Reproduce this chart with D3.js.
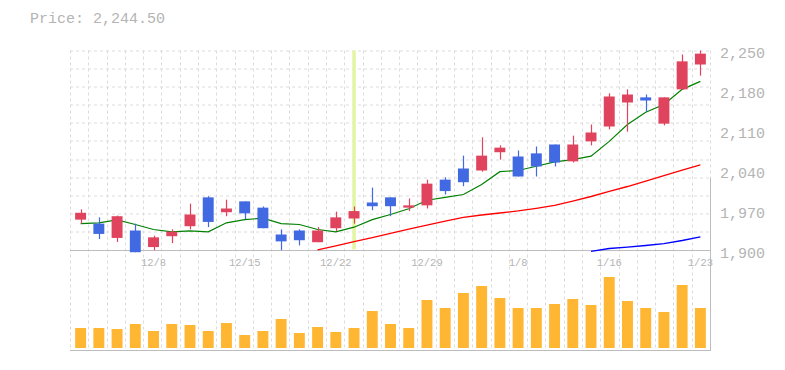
<!DOCTYPE html>
<html>
<head>
<meta charset="utf-8">
<script src="https://cdn.jsdelivr.net/npm/d3@7"></script>
<style>
  html, body { margin: 0; padding: 0; background: #fff; }
  svg { display: block; }
  text { font-family: "Liberation Mono", "Courier New", monospace; fill: #b4b4b4; }
</style>
</head>
<body>
<svg id="chart" width="785" height="370"></svg>
<script>
// ---- data ----
const dates = ["12/2","12/3","12/4","12/5","12/8","12/9","12/10","12/11","12/12",
  "12/15","12/16","12/17","12/18","12/19","12/22","12/23","12/24","12/25","12/26",
  "12/29","12/30","1/5","1/6","1/7","1/8","1/9","1/13","1/14","1/15","1/16",
  "1/19","1/20","1/21","1/22","1/23"];
const openP  = [1954,1947,1922,1935,1906,1925,1942.5,1993,1967,1986,1975,1928,1935,1914.5,1939,1956,1984,1993,1975,1979,2024,2043.5,2040,2072,2064.5,2070,2085.5,2056,2091,2117,2159,2168,2122,2182,2225.5];
const closeP = [1966,1929,1960,1897,1923,1933,1963,1950,1973.5,1965,1939,1916,1918,1935,1958,1969,1977.5,1977.5,1979,2017,2004,2019.5,2066,2080,2029.5,2047,2054,2085.5,2106.5,2169.5,2173,2162.5,2168,2231,2244.5];
const highP  = [1972,1958,1961,1947,1926,1937,1982,1995,1989,1986,1977,1937,1937,1941,1968,1977,2010,1993,1991,2024,2028,2066,2098,2084,2075,2082,2085.5,2101,2120.5,2175,2182,2173,2168,2243,2250];
const lowP   = [1947,1920,1915,1897,1900.5,1913,1937,1941,1960,1955,1939,1900.5,1909,1914.5,1934,1947,1970.5,1960,1969,1973.5,1998,2012.5,2038,2059,2029.5,2029.5,2047,2054,2084,2112,2108,2143,2119,2182,2206];
const volume = [200,200,190,240,170,240,230,170,250,130,170,290,150,210,160,200,370,240,200,480,400,550,620,500,400,400,440,490,430,710,470,400,360,630,400].map(v => v * 1000);
const ma5  = [1947,1948.5,1953.7,1945.5,1936.7,1932.7,1934.5,1932.7,1948.5,1954,1956.5,1947,1945.5,1936.7,1932.7,1940.8,1954,1963,1973,1988,1993,1998,2015.5,2038,2040,2047.5,2055,2059,2065,2091,2120.5,2142,2155.5,2182,2196];
const ma25 = [null,null,null,null,null,null,null,null,null,null,null,null,null,
  1900.9,1908.2,1915.4,1922.6,1930.1,1937.3,1944.5,1951.6,1958.1,1962.1,1965.6,1969.3,1973.9,1979.1,1986.6,1994.5,2003.3,2012,2021.5,2031.1,2040.6,2050];
const ma75 = [null,null,null,null,null,null,null,null,null,null,null,null,null,null,null,null,null,null,null,null,null,null,null,null,null,null,null,null,
  1898.6,1903.5,1905.8,1908.75,1912,1917.5,1924];
const priceTicks = [1900, 1970, 2040, 2110, 2180, 2250];
const xTickEvery = 5, xTickOffset = 4;
const highlightIndex = 15;
const titleText = "Price: 2,244.50";

// ---- layout ----
const svg = d3.select("#chart");
const L = 70, R = 710, T = 50.5, PB = 250.5, VB = 348, AX2 = 350.5;
const idx = d3.range(dates.length);
const x = d3.scaleBand().domain(idx).range([71.5, 709.5]).paddingInner(0.4).paddingOuter(0.2);
const cx = i => x(i) + x.bandwidth() / 2;
const y = d3.scaleLinear().domain([1900, 2250]).range([PB, T]);
const yv = d3.scaleLinear().domain([0, 1000000]).range([VB, VB - 100]);

// title
svg.append("text").attr("x", 30).attr("y", 23).style("font-size", "15px").text(titleText);

// grid
const grid = svg.append("g").attr("stroke", "#dcdcdc").attr("stroke-dasharray", "3,3").attr("stroke-width", 1);
const nV = 35, nH = 11;
d3.range(nV).forEach(k => {
  const gx = Math.round(L + k * (R - L) / nV) + 0.5;
  grid.append("line").attr("x1", gx).attr("x2", gx).attr("y1", T).attr("y2", AX2);
});
grid.append("line").attr("x1", R + 0.5).attr("x2", R + 0.5).attr("y1", T).attr("y2", 178);
d3.range(nH).forEach(k => {
  const gy = Math.round(T + k * (PB - T) / nH) + 0.5;
  grid.append("line").attr("x1", L).attr("x2", R).attr("y1", gy - 0.5).attr("y2", gy - 0.5);
});

// axes lines
svg.append("line").attr("x1", L).attr("x2", R + 1).attr("y1", PB).attr("y2", PB).attr("stroke", "#bdbdbd");
svg.append("line").attr("x1", L).attr("x2", R + 1).attr("y1", AX2).attr("y2", AX2).attr("stroke", "#bdbdbd");
svg.append("line").attr("x1", R + 0.5).attr("x2", R + 0.5).attr("y1", 178).attr("y2", AX2).attr("stroke", "#bdbdbd");

// highlight
svg.append("line").attr("x1", cx(highlightIndex)).attr("x2", cx(highlightIndex))
  .attr("y1", T).attr("y2", PB - 1).attr("stroke", "#e3f5a2").attr("stroke-width", 3.5);

// price axis labels (right)
const yAxis = d3.axisRight(y).tickValues(priceTicks).tickSize(0).tickPadding(10).tickFormat(d3.format(","));
const ya = svg.append("g").attr("transform", `translate(${R},0)`).call(yAxis);
ya.select(".domain").remove();
ya.selectAll("text").style("font-size", "15px").attr("fill", "#b4b4b4").attr("dy", "6.5").style("font-family", "'Liberation Mono', monospace");

// x labels
const xAxis = d3.axisBottom(x).tickValues(idx.filter(i => i % xTickEvery === xTickOffset))
  .tickFormat(i => dates[i]).tickSize(0).tickPadding(0);
const xa = svg.append("g").attr("transform", `translate(0,${PB})`).call(xAxis);
xa.select(".domain").remove();
xa.selectAll("text").style("font-size", "10.5px").attr("fill", "#b4b4b4").attr("dy", "15.5").attr("y", 0).style("font-family", "'Liberation Mono', monospace");

// volume bars
svg.append("g").selectAll("rect").data(idx).join("rect")
  .attr("x", i => x(i)).attr("width", x.bandwidth())
  .attr("y", i => yv(volume[i])).attr("height", i => VB - yv(volume[i]))
  .attr("fill", "#ffb733");

// moving averages
const mkLine = arr => d3.line().defined(i => arr[i] !== null).x(cx).y(i => y(arr[i]));
svg.append("path").attr("d", mkLine(ma25)(idx)).attr("fill", "none").attr("stroke", "#ff0000").attr("stroke-width", 1.3);
svg.append("path").attr("d", mkLine(ma75)(idx)).attr("fill", "none").attr("stroke", "#0000ff").attr("stroke-width", 1.3);
svg.append("path").attr("d", mkLine(ma5)(idx)).attr("fill", "none").attr("stroke", "#008000").attr("stroke-width", 1.2);

// candles
const up = "#e0435d", down = "#4169e1";
const cg = svg.append("g").selectAll("g").data(idx).join("g");
cg.append("line")
  .attr("x1", i => Math.round(cx(i)) + 0.5).attr("x2", i => Math.round(cx(i)) + 0.5)
  .attr("y1", i => y(highP[i])).attr("y2", i => y(lowP[i]))
  .attr("stroke", i => closeP[i] >= openP[i] ? up : down).attr("stroke-width", 1.2);
cg.append("rect")
  .attr("x", i => x(i)).attr("width", x.bandwidth())
  .attr("y", i => y(Math.max(openP[i], closeP[i])))
  .attr("height", i => Math.max(1.5, Math.abs(y(openP[i]) - y(closeP[i]))))
  .attr("fill", i => closeP[i] >= openP[i] ? up : down);
</script>
</body>
</html>
